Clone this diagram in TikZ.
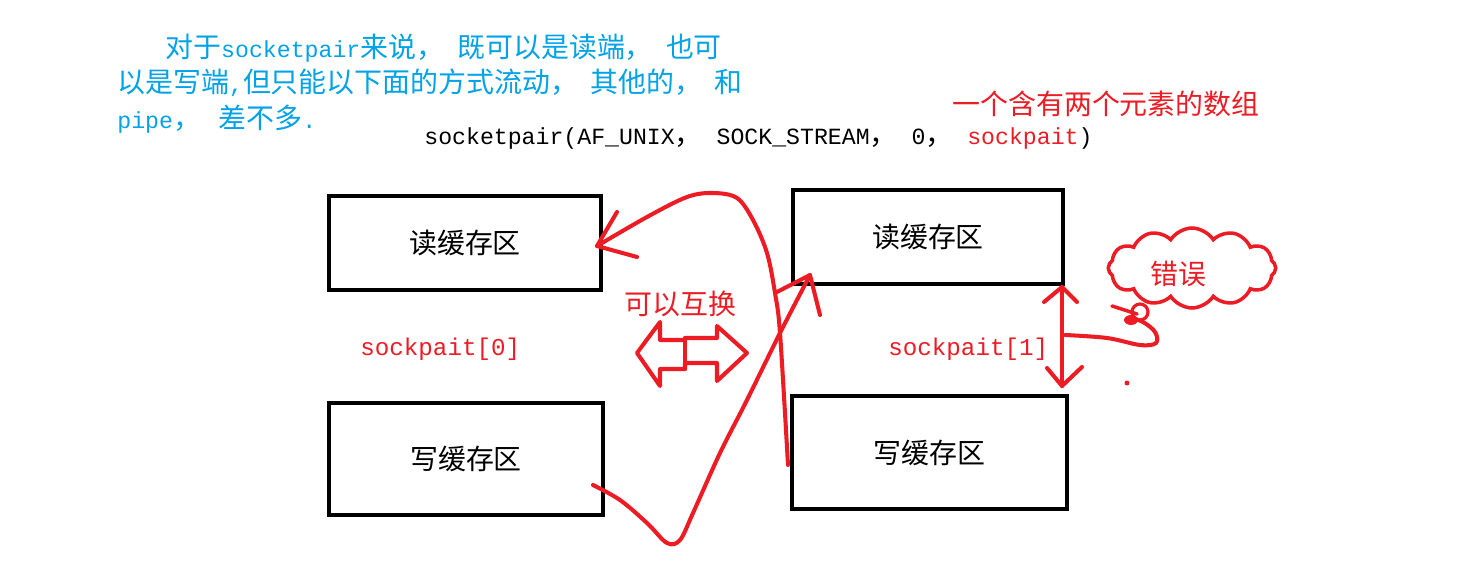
\documentclass[tikz,border=0pt]{standalone}
\usepackage{fontspec}
\setmainfont{Liberation Serif}
\setmonofont{Liberation Mono}[Scale=0.83]
\newfontfamily\cjk{Noto Sans CJK SC}
\usetikzlibrary{shapes.symbols}
\definecolor{pred}{RGB}{237,28,36}
\definecolor{pblue}{RGB}{0,162,232}
\begin{document}
\begin{tikzpicture}[x=0.02cm,y=-0.02cm,
  every node/.style={inner sep=0pt,font=\fontsize{15.9}{19}\selectfont\cjk},
  box/.style={draw=black,line width=2.3pt,inner sep=0pt},
  txt/.style={anchor=west},
  lbl/.style={anchor=west,text=pred,font=\fontsize{16.6}{19}\selectfont\ttfamily},
  redline/.style={draw=pred,line width=2.3pt,line cap=round,line join=round}]
\useasboundingbox (0,0) rectangle (1471,574);
\fill[white] (0,0) rectangle (1471,574);

% blue text
\node[txt,text=pblue] (b1) at (165,48) {对于{\ttfamily socketpair}来说，\hspace{7.5pt}既可以是读端，\hspace{7.5pt}也可};
\node[txt,text=pblue] (b2) at (117,83) {以是写端{\ttfamily ,}但只能以下面的方式流动，\hspace{7pt}其他的，\hspace{7pt}和};
\node[txt,text=pblue] (b3) at (117,119) {{\ttfamily pipe}，\hspace{10pt}差不多{\ttfamily .}};

% call
\node[txt] (call) at (424,139) {{\ttfamily socketpair(AF\_UNIX}，{\ttfamily\ SOCK\_STREAM}，{\ttfamily\ 0}，{\ttfamily\ \textcolor{pred}{sockpait})}};
\node[txt,text=pred] (arr) at (952,104) {一个含有两个元素的数组};

% boxes
\node[box,minimum width=5.44cm,minimum height=1.88cm] (lr) at (465,243) {读缓存区};
\node[box,minimum width=5.48cm,minimum height=2.24cm] (lw) at (466,459) {写缓存区};
\node[box,minimum width=5.40cm,minimum height=1.88cm] (rr) at (928,237) {读缓存区};
\node[box,minimum width=5.50cm,minimum height=2.26cm] (rw) at (929.5,452.5) {写缓存区};

% labels
\node[lbl] (s0) at (360,349) {sockpait[0]};
\node[lbl] (s1) at (888,349) {sockpait[1]};
\node[txt,text=pred] (sw) at (624,304) {可以互换};

% hollow double arrow
\draw[redline] (637,353) -- (660,322) -- (660,340) -- (685,340) -- (685,338) -- (717,338) -- (717,326)
  -- (747,353) -- (717,381) -- (717,363) -- (685,363) -- (685,369) -- (660,369) -- (660,386) -- cycle;
\draw[redline] (685,338) -- (685,369);

% freehand curve 1: left write -> right read
\coordinate (t1) at (810,275);
\draw[redline] plot[smooth,tension=0.55] coordinates {(593,485) (620,500) (647,523) (667,543) (680,540) (693,513) (720,453) (747,400) (780,333) (810,275)};
\draw[redline] (775,293) -- (t1) -- (820,315);

% freehand curve 2: right write -> left read
\coordinate (t2) at (597,246);
\draw[redline] plot[smooth,tension=0.55] coordinates {(788,465) (780,333) (775,293) (767,253) (753,220) (737,198) (713,193) (687,197) (647,217) (597,246)};
\draw[redline] (617,212) -- (t2) -- (637,257);

% vertical double arrow
\coordinate (va) at (1062,287);
\coordinate (vb) at (1062,386);
\draw[redline] (va) -- (vb);
\draw[redline] (1044,302) -- (va) -- (1077,302);
\draw[redline] (1047,368) -- (vb) -- (1082,367);

% cloud
\node[cloud,draw=pred,line width=2pt,cloud puffs=12,cloud puff arc=115,aspect=2.1,
      minimum width=3.35cm,minimum height=1.6cm] (cl) at (1192,268) {};
\node[text=pred] (err) at (1178,274) {错误};
\draw[redline,line width=1.8pt] (1140,312) circle (8);
\fill[pred] (1131,320) ellipse (7 and 5);
\draw[redline,line width=2pt] (1112,306) -- (1137,314);
\draw[redline] plot[smooth,tension=0.6] coordinates {(1065,335) (1107,338) (1140,345) (1156,343) (1155,332) (1143,322) (1131,318)};
\fill[pred] (1127,383) circle (2.5);
\end{tikzpicture}
\end{document}
